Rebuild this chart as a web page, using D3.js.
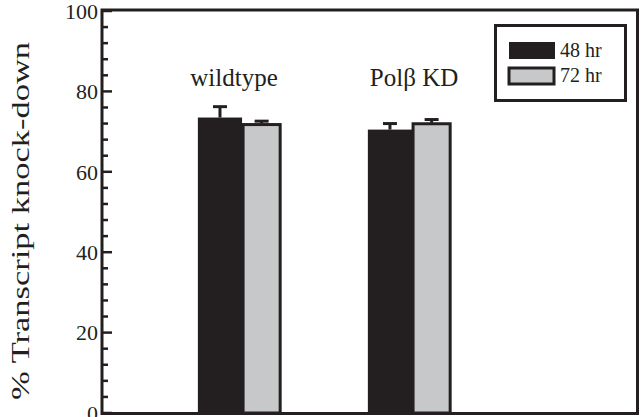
<!DOCTYPE html>
<html><head><meta charset="utf-8">
<script src="https://cdn.jsdelivr.net/npm/d3@7"></script>
<style>body{margin:0;background:#fff}svg{display:block}</style>
</head><body><svg id="c" width="641" height="417" font-family="'Liberation Serif', 'Times New Roman', serif"></svg>
<script>
const categories = ["wildtype", "Polβ KD"];
const series = ["48 hr", "72 hr"];
const values48 = [73.5, 70.5];
const errors48 = [2.7, 1.5];
const values72 = [72.0, 72.2];
const errors72 = [0.6, 0.8];
const yTicks = [0, 20, 40, 60, 80, 100];

const svg = d3.select("#c");
const dark = "#231f20", gray = "#c7c8ca";
const y = d3.scaleLinear().domain([0, 100]).range([413, 11]);
const x = d3.scaleLinear().domain([0.176, 3.335]).range([102, 639]);
const pos = categories.map((c, i) => i + 1);
const labelShift = [-8, 2];

svg.append("rect").attr("x", x(0.176)).attr("y", y(100) - 1).attr("width", x(3.335) - x(0.176) - 1.5)
  .attr("height", y(0) - y(100) + 1.5).attr("fill", "none").attr("stroke", dark).attr("stroke-width", 3);

const minor = d3.range(0, 101, 4).filter(v => v % 20 !== 0);
svg.selectAll(".mt").data(minor).join("line")
  .attr("x1", x(0.176)).attr("x2", x(0.176) + 6).attr("y1", d => y(d)).attr("y2", d => y(d))
  .attr("stroke", dark).attr("stroke-width", 2.5);
svg.selectAll(".Mt").data(yTicks).join("line")
  .attr("x1", x(0.176)).attr("x2", x(0.176) + 10).attr("y1", d => y(d)).attr("y2", d => y(d))
  .attr("stroke", dark).attr("stroke-width", 2.5);
svg.selectAll(".tl").data(yTicks).join("text")
  .attr("x", 98).attr("y", d => y(d)).attr("dy", "0.35em").attr("text-anchor", "end")
  .attr("font-size", 22).attr("fill", dark).text(d => d);

svg.append("text").attr("transform", "translate(29,221) rotate(-90)").attr("text-anchor", "middle")
  .attr("font-size", 26).attr("fill", dark).attr("textLength", 358).attr("lengthAdjust", "spacingAndGlyphs")
  .text("% Transcript knock-down");

const bw48 = 0.26, bw72 = 0.23;
pos.forEach((p, i) => {
  const c48 = x(p - bw48 / 2);
  svg.append("line").attr("x1", c48).attr("x2", c48).attr("y1", y(values48[i])).attr("y2", y(values48[i] + errors48[i]))
    .attr("stroke", dark).attr("stroke-width", 3);
  svg.append("line").attr("x1", c48 - 7).attr("x2", c48 + 7).attr("y1", y(values48[i] + errors48[i])).attr("y2", y(values48[i] + errors48[i]))
    .attr("stroke", dark).attr("stroke-width", 3);
  svg.append("rect").attr("x", x(p - bw48)).attr("y", y(values48[i])).attr("width", x(p) - x(p - bw48))
    .attr("height", y(0) - y(values48[i])).attr("fill", dark);
  const c72 = x(p + bw72 / 2);
  svg.append("line").attr("x1", c72).attr("x2", c72).attr("y1", y(values72[i])).attr("y2", y(values72[i] + errors72[i]))
    .attr("stroke", dark).attr("stroke-width", 3);
  svg.append("line").attr("x1", c72 - 7).attr("x2", c72 + 7).attr("y1", y(values72[i] + errors72[i])).attr("y2", y(values72[i] + errors72[i]))
    .attr("stroke", dark).attr("stroke-width", 3);
  svg.append("rect").attr("x", x(p) + 1).attr("y", y(values72[i]) + 1).attr("width", x(p + bw72) - x(p) - 2)
    .attr("height", y(0) - y(values72[i]) - 1).attr("fill", gray).attr("stroke", dark).attr("stroke-width", 3);
  svg.append("text").attr("x", x(p) + labelShift[i]).attr("y", 86).attr("text-anchor", "middle").attr("font-size", 25)
    .attr("fill", dark).text(categories[i]);
});

svg.append("rect").attr("x", 495.5).attr("y", 25.5).attr("width", 130).attr("height", 75)
  .attr("fill", "#fff").attr("stroke", dark).attr("stroke-width", 3);
const lg = [{f: dark, s: "none"}, {f: gray, s: dark}];
series.forEach((s, i) => {
  const yy = 42 + i * 25;
  svg.append("rect").attr("x", 509).attr("y", yy + (i ? 1 : 0)).attr("width", 46 - (i ? 1 : 0)).attr("height", 17 - (i ? 1 : 0))
    .attr("fill", lg[i].f).attr("stroke", lg[i].s).attr("stroke-width", 3);
  svg.append("text").attr("x", 560).attr("y", yy + 15).attr("font-size", 20).attr("fill", dark).text(s);
});
</script></body></html>
